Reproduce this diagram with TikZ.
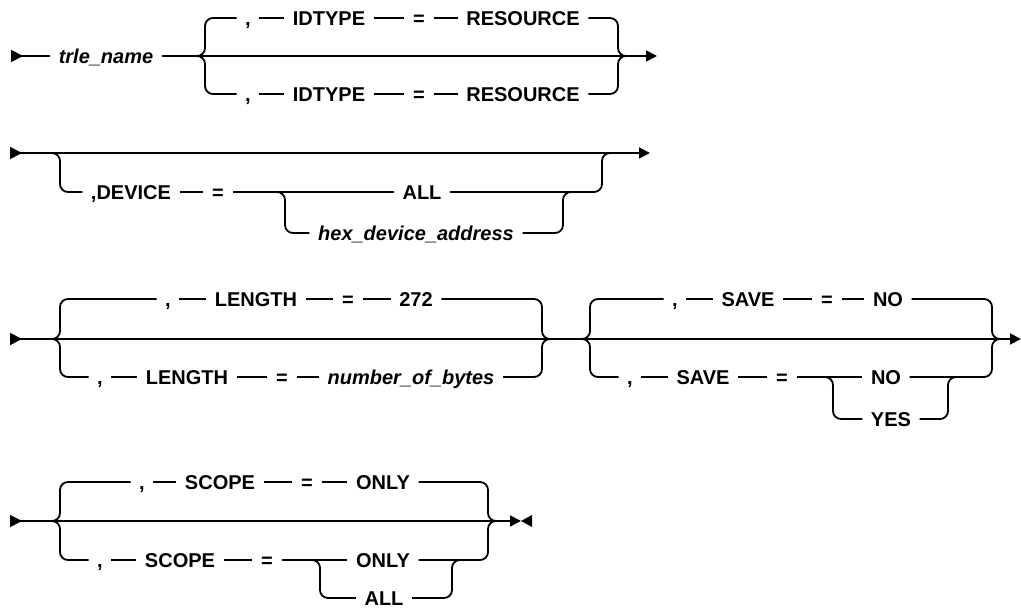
\documentclass[tikz,border=0pt]{standalone}
\usepackage{fontspec}
\setmainfont{Liberation Sans}
\usetikzlibrary{arrows.meta}

\begin{document}
\begin{tikzpicture}[x=1pt,y=-1pt,
  rail/.style={line width=1.8pt},
  brace/.style={rail,rounded corners=8pt},
  head/.style={rail,{Triangle[reversed,length=12pt,width=12pt]}-},
  tail/.style={rail,-{Triangle[length=11pt,width=11pt]}},
  headtail/.style={rail,{Triangle[reversed,length=12pt,width=12pt]}-{Triangle[length=11pt,width=11pt]}},
  tok/.style={font=\fontsize{20}{20}\selectfont\bfseries,inner xsep=8.5pt,inner ysep=0pt,text height=14.3pt,text depth=0pt},
  var/.style={tok,font=\fontsize{20}{20}\selectfont\bfseries\itshape}]
\useasboundingbox (0,0) rectangle (1021,609);

% row 1
\coordinate (s1) at (11,56);
\coordinate (e1) at (657,56);
\node[var] (trle) at (106,56) {trle\_name};
\node[tok] (c1a) at (248,18) {,};
\node[tok] (idt1a) at (329,18) {IDTYPE};
\node[tok] (eq1a) at (419,18) {=};
\node[tok] (res1a) at (523,18) {RESOURCE};
\node[tok] (c1b) at (248,94) {,};
\node[tok] (idt1b) at (329,94) {IDTYPE};
\node[tok] (eq1b) at (419,94) {=};
\node[tok] (res1b) at (523,94) {RESOURCE};
\draw[head] (s1) -- (trle.west);
\draw[tail] (trle.east) -- (e1);
\draw[brace] (197,56) -| (205,18) -- (c1a.west);
\draw[brace] (197,56) -| (205,94) -- (c1b.west);
\draw[rail] (c1a) -- (idt1a) -- (eq1a) -- (res1a);
\draw[rail] (c1b) -- (idt1b) -- (eq1b) -- (res1b);
\draw[brace] (res1a.east) -| (618,56) -- (626,56);
\draw[brace] (res1b.east) -| (618,56) -- (626,56);

% row 2
\coordinate (s2) at (10,153);
\coordinate (e2) at (650,153);
\node[tok] (dev) at (131,192) {,DEVICE};
\node[tok] (eq2) at (218,192) {=};
\node[tok] (all2) at (422,192) {ALL};
\node[var] (hex) at (416,233) {hex\_device\_address};
\draw[headtail] (s2) -- (e2);
\draw[brace] (52,153) -| (60,192) -- (dev.west);
\draw[rail] (dev) -- (eq2) -- (all2);
\draw[brace] (all2.east) -| (602,153) -- (610,153);
\draw[brace] (277,192) -| (285,233) -- (hex.west);
\draw[brace] (hex.east) -| (563,192) -- (571,192);

% row 3
\coordinate (s3) at (10,339);
\coordinate (e3) at (1021,339);
\node[tok] (c3a) at (168,299) {,};
\node[tok] (len3a) at (256,299) {LENGTH};
\node[tok] (eq3a) at (348,299) {=};
\node[tok] (n272) at (416,299) {272};
\node[tok] (c3b) at (100,377) {,};
\node[tok] (len3b) at (187,377) {LENGTH};
\node[tok] (eq3b) at (282,377) {=};
\node[var] (nob) at (411,377) {number\_of\_bytes};
\node[tok] (c3c) at (675,299) {,};
\node[tok] (sav3a) at (748,299) {SAVE};
\node[tok] (eq3c) at (827,299) {=};
\node[tok] (no3a) at (888,299) {NO};
\node[tok] (c3d) at (630,377) {,};
\node[tok] (sav3b) at (703,377) {SAVE};
\node[tok] (eq3d) at (782,377) {=};
\node[tok] (no3b) at (886,377) {NO};
\node[tok] (yes) at (891,419) {YES};
\draw[headtail] (s3) -- (e3);
\draw[brace] (52,339) -| (60,299) -- (c3a.west);
\draw[brace] (52,339) -| (60,377) -- (c3b.west);
\draw[rail] (c3a) -- (len3a) -- (eq3a) -- (n272);
\draw[rail] (c3b) -- (len3b) -- (eq3b) -- (nob);
\draw[brace] (n272.east) -| (542,339) -- (550,339);
\draw[brace] (nob.east) -| (542,339) -- (550,339);
\draw[brace] (582,339) -| (590,299) -- (c3c.west);
\draw[brace] (582,339) -| (590,377) -- (c3d.west);
\draw[rail] (c3c) -- (sav3a) -- (eq3c) -- (no3a);
\draw[rail] (c3d) -- (sav3b) -- (eq3d) -- (no3b);
\draw[brace] (no3a.east) -| (992,339) -- (1000,339);
\draw[brace] (no3b.east) -| (992,339) -- (1000,339);
\draw[brace] (825,377) -| (833,419) -- (yes.west);
\draw[brace] (yes.east) -| (948,377) -- (956,377);

% row 4
\coordinate (s4) at (10,521);
\coordinate (f4) at (521,521);
\node[tok] (c4a) at (142,482) {,};
\node[tok] (sco4a) at (220,482) {SCOPE};
\node[tok] (eq4a) at (307,482) {=};
\node[tok] (only4a) at (383,482) {ONLY};
\node[tok] (c4b) at (100,560) {,};
\node[tok] (sco4b) at (180,560) {SCOPE};
\node[tok] (eq4b) at (267,560) {=};
\node[tok] (only4b) at (383,560) {ONLY};
\node[tok] (all4) at (384,598) {ALL};
\draw[headtail] (s4) -- (f4);
\fill (f4) -- ++(11,-6) -- ++(0,12) -- cycle;
\draw[brace] (52,521) -| (60,482) -- (c4a.west);
\draw[brace] (52,521) -| (60,560) -- (c4b.west);
\draw[rail] (c4a) -- (sco4a) -- (eq4a) -- (only4a);
\draw[rail] (c4b) -- (sco4b) -- (eq4b) -- (only4b);
\draw[brace] (only4a.east) -| (488,521) -- (496,521);
\draw[brace] (only4b.east) -| (488,521) -- (496,521);
\draw[brace] (312,560) -| (320,598) -- (all4.west);
\draw[brace] (all4.east) -| (452,560) -- (460,560);
\end{tikzpicture}
\end{document}
